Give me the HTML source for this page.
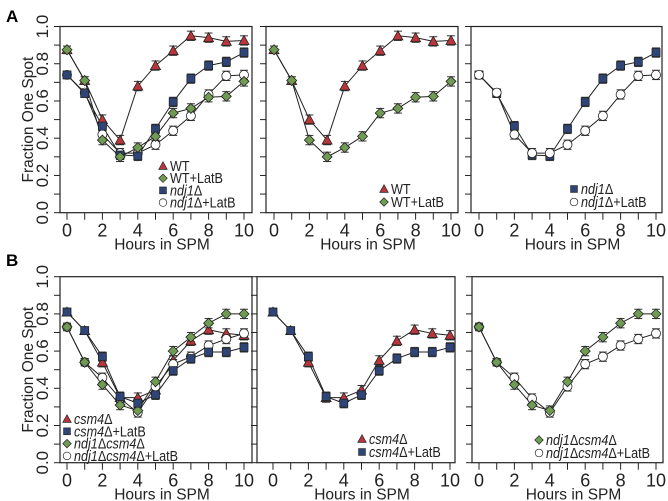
<!DOCTYPE html>
<html><head><meta charset="utf-8">
<style>
html,body{margin:0;padding:0;background:#fff;}
svg{display:block;font-family:"Liberation Sans",Arial,sans-serif;}
</style></head>
<body>
<svg id="chart" width="668" height="501" viewBox="0 0 668 501" xmlns="http://www.w3.org/2000/svg">
<text x="6" y="22" font-size="17" font-weight="bold">A</text>
<text x="6" y="266" font-size="17" font-weight="bold">B</text>
</svg>
<script>
const hours = [0,1,2,3,4,5,6,7,8,9,10];
const xTickLabels = [0,2,4,6,8,10];
const yTickLabels = ["0.0","0.2","0.4","0.6","0.8","1.0"];
const wt = [0.875,0.71,0.50,0.39,0.68,0.79,0.87,0.95,0.94,0.92,0.925];
const wtLatB = [0.875,0.71,0.39,0.30,0.35,0.41,0.535,0.56,0.62,0.625,0.705];
const ndj1 = [0.74,0.64,0.465,0.31,0.305,0.45,0.595,0.72,0.79,0.81,0.86];
const ndj1LatB = [0.74,0.645,0.42,0.32,0.32,0.365,0.44,0.52,0.635,0.735,0.74];
const csm4 = [0.81,0.71,0.54,0.35,0.35,0.39,0.55,0.655,0.715,0.695,0.685];
const csm4LatB = [0.81,0.71,0.57,0.355,0.32,0.365,0.495,0.56,0.595,0.595,0.62];
const ndj1csm4 = [0.73,0.54,0.42,0.31,0.28,0.435,0.60,0.675,0.75,0.80,0.80];
const ndj1csm4LatB = [0.73,0.54,0.457,0.345,0.27,0.41,0.53,0.57,0.63,0.665,0.695];
const errA = [0.02,0.02,0.025,0.025,0.025,0.025,0.025,0.025,0.025,0.025,0.025];

const NS = "http://www.w3.org/2000/svg";
const svg = document.getElementById('chart');
function mk(tag, attrs, parent){
  const e = document.createElementNS(NS, tag);
  for (const k in attrs) e.setAttribute(k, attrs[k]);
  (parent||svg).appendChild(e);
  return e;
}
const styles = {
  tri: {fill:"#b8363b"}, dia: {fill:"#6f9b52"}, sq: {fill:"#2f4577"}, circ: {fill:"#ffffff"}
};
function marker(g, type, x, y){
  let m;
  if (type==='tri') m = mk('polygon',{points:`${x},${y-5} ${x-5},${y+4} ${x+5},${y+4}`},g);
  else if (type==='dia') m = mk('polygon',{points:`${x},${y-5} ${x+5},${y} ${x},${y+5} ${x-5},${y}`},g);
  else if (type==='sq') m = mk('rect',{x:x-4,y:y-4,width:8,height:8},g);
  else m = mk('circle',{cx:x,cy:y,r:4.5},g);
  m.setAttribute('fill', styles[type].fill);
  m.setAttribute('stroke', '#222');
  m.setAttribute('stroke-width', '0.8');
  
  
  return m;
}
function panel(p){
  const g = mk('g',{});
  
  
  const x0 = p.x0, sx = 17.7;
  const X = h => x0 + h*sx;
  const Y = v => p.bottom - (p.bottom-p.top)*v;
  const box = mk('rect',{x:p.left,y:p.top,width:p.right-p.left,height:p.bottom-p.top,fill:'none',stroke:'#222','stroke-width':1.2},g);
  
  
  for (let i=0;i<=10;i++){
    const t = mk('line',{x1:p.left,x2:p.left-6,y1:Y(i/10),y2:Y(i/10),stroke:'#222','stroke-width':1},g);
    
    
  }
  hours.forEach(h=>{
    const t = mk('line',{x1:X(h),x2:X(h),y1:p.bottom,y2:p.bottom+7,stroke:'#222','stroke-width':1},g);
    
    
  });
  xTickLabels.forEach(h=>{
    const t = mk('text',{x:X(h),y:p.bottom+24,'font-size':18,'text-anchor':'middle',fill:'#222'},g);
    t.textContent = h;
    
    
  });
  const xt = mk('text',{x:(p.left+p.right)/2+6,y:p.bottom+37,'font-size':15.5,'text-anchor':'middle',fill:'#222'},g);
  xt.textContent = 'Hours in SPM';
  
  
  if (p.yLabels){
    yTickLabels.forEach((l,i)=>{
      const y = Y(i*0.2);
      const t = mk('text',{x:0,y:0,'font-size':17,'text-anchor':'middle',fill:'#222',transform:`translate(${p.left-12},${y}) rotate(-90)`},g);
      t.textContent = l;
      
      
    });
    const yt = mk('text',{x:0,y:0,'font-size':15.5,'text-anchor':'middle',fill:'#222',transform:`translate(33,${(p.top+p.bottom)/2}) rotate(-90)`},g);
    yt.textContent = 'Fraction One Spot';
    
    
  }
  p.series.forEach(s=>{
    const sg = mk('g',{},g);
    
    
    const pts = s.data.map((v,i)=>`${X(hours[i])},${Y(v)}`).join(' ');
    mk('polyline',{points:pts,fill:'none',stroke:'#222','stroke-width':1},sg);
    s.data.forEach((v,i)=>{
      const x = X(hours[i]), e = errA[i];
      const y1 = Y(v+e), y2 = Y(v-e);
      mk('line',{x1:x,x2:x,y1:y1,y2:y2,stroke:'#333','stroke-width':1},sg);
      mk('line',{x1:x-4,x2:x+4,y1:y1,y2:y1,stroke:'#333','stroke-width':1},sg);
      mk('line',{x1:x-4,x2:x+4,y1:y2,y2:y2,stroke:'#333','stroke-width':1},sg);
    });
  });
  p.series.forEach(s=>{
    s.data.forEach((v,i)=> marker(g, s.type, X(hours[i]), Y(v)));
  });
  const lg = mk('g',{},g);
  
  
  p.legend.items.forEach((it,i)=>{
    const y = p.legend.y + i*p.legend.dy;
    const mm = marker(lg, it.type, p.legend.x, y);
    mm.setAttribute('transform',`translate(${p.legend.x},${y}) scale(0.85) translate(${-p.legend.x},${-y})`);
    const tx = p.legend.x+7;
    const t = mk('text',{x:tx,y:y+5,'font-size':14.5,fill:'#222',transform:`translate(${tx},0) scale(0.87,1) translate(${-tx},0)`},lg);
    
    
    it.parts.forEach(pt=>{
      const ts = mk('tspan',{},t);
      if (pt[1]) ts.setAttribute('font-style','italic');
      ts.textContent = pt[0];
    });
  });
}
const D = '\u0394';
const L = {
  wt:{type:'tri',parts:[['WT',0]]},
  wtL:{type:'dia',parts:[['WT+LatB',0]]},
  nd:{type:'sq',parts:[['ndj1',1],[D,0]]},
  ndL:{type:'circ',parts:[['ndj1',1],[D+'+LatB',0]]},
  cs:{type:'tri',parts:[['csm4',1],[D,0]]},
  csL:{type:'sq',parts:[['csm4',1],[D+'+LatB',0]]},
  ndcs:{type:'dia',parts:[['ndj1',1],[D,0],['csm4',1],[D,0]]},
  ndcsL:{type:'circ',parts:[['ndj1',1],[D,0],['csm4',1],[D+'+LatB',0]]}
};
const AT=26.5, AB=212.7, BT=276.7, BB=462.7;
panel({name:'panel-a1',left:60,right:252,top:AT,bottom:AB,x0:67,yLabels:true,
  series:[{name:'series-wt',type:'tri',data:wt},{name:'series-ndj1-latb',type:'circ',data:ndj1LatB},{name:'series-ndj1',type:'sq',data:ndj1},{name:'series-wt-latb',type:'dia',data:wtLatB}],
  legend:{x:163,y:166,dy:12.2,items:[L.wt,L.wtL,L.nd,L.ndL]}});
panel({name:'panel-a2',left:266,right:458,top:AT,bottom:AB,x0:274,
  series:[{name:'series-wt',type:'tri',data:wt},{name:'series-wt-latb',type:'dia',data:wtLatB}],
  legend:{x:384,y:189,dy:13,items:[L.wt,L.wtL]}});
panel({name:'panel-a3',left:471,right:662,top:AT,bottom:AB,x0:479,
  series:[{name:'series-ndj1',type:'sq',data:ndj1},{name:'series-ndj1-latb',type:'circ',data:ndj1LatB}],
  legend:{x:574,y:189,dy:13,items:[L.nd,L.ndL]}});
panel({name:'panel-b1',left:60,right:252,top:BT,bottom:BB,x0:67,yLabels:true,
  series:[{name:'series-csm4',type:'tri',data:csm4},{name:'series-ndj1csm4-latb',type:'circ',data:ndj1csm4LatB},{name:'series-ndj1csm4',type:'dia',data:ndj1csm4},{name:'series-csm4-latb',type:'sq',data:csm4LatB}],
  legend:{x:67,y:419,dy:12.3,items:[L.cs,L.csL,L.ndcs,L.ndcsL]}});
panel({name:'panel-b2',left:257,right:455,top:BT,bottom:BB,x0:273,
  series:[{name:'series-csm4',type:'tri',data:csm4},{name:'series-csm4-latb',type:'sq',data:csm4LatB}],
  legend:{x:362,y:439,dy:13,items:[L.cs,L.csL]}});
panel({name:'panel-b3',left:472,right:663,top:BT,bottom:BB,x0:479,
  series:[{name:'series-ndj1csm4-latb',type:'circ',data:ndj1csm4LatB},{name:'series-ndj1csm4',type:'dia',data:ndj1csm4}],
  legend:{x:539,y:440,dy:13,items:[L.ndcs,L.ndcsL]}});
</script>
</body></html>
